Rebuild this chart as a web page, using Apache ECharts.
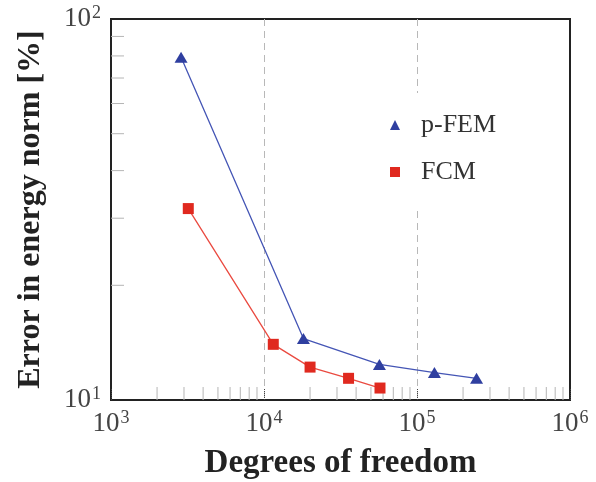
<!DOCTYPE html>
<html>
<head>
<meta charset="utf-8">
<script src="https://cdn.jsdelivr.net/npm/echarts@6/dist/echarts.min.js"></script>
<style>
  html, body { margin: 0; padding: 0; background: #fff; }
  #main { width: 596px; height: 482px; }
</style>
</head>
<body>
<div id="main"></div>
<script>
// degrees of freedom vs. error (%)
const pfemDof = [2870, 18100, 56800, 130000, 245000];
const pfemErr = [79.4, 14.5, 12.4, 11.8, 11.4];
const fcmDof = [3200, 11500, 20000, 35700, 57300];
const fcmErr = [31.8, 14.0, 12.2, 11.4, 10.75];

// minor tick values
const minorX = [2000, 3000, 4000, 5000, 6000, 7000, 8000, 9000,
  20000, 30000, 40000, 50000, 60000, 70000, 80000, 90000,
  200000, 300000, 400000, 500000, 600000, 700000, 800000, 900000];
const minorY = [20, 30, 40, 50, 60, 70, 80, 90];

const serif = "Liberation Serif";
const ink = "#222";

const supLabel = function (v) {
  const e = Math.round(Math.log10(v));
  return "{b|10}{s|" + e + "}";
};
const labelRich = {
  b: { fontFamily: serif, fontSize: 27, color: "#444", lineHeight: 30 },
  s: { fontFamily: serif, fontSize: 18, color: "#444", verticalAlign: "top", lineHeight: 30, padding: [0, 0, 10, 1] }
};

const chart = echarts.init(document.getElementById("main"));
chart.setOption({
  animation: false,
  grid: {
    left: 111, right: 26, top: 19, bottom: 82,
    outerBoundsMode: "none", containLabel: false,
    show: true, borderColor: ink, borderWidth: 2, backgroundColor: "transparent"
  },
  legend: {
    orient: "vertical",
    left: 375, top: 93,
    padding: [19, 20, 23, 15],
    backgroundColor: "#fff",
    itemWidth: 10, itemHeight: 10, itemGap: 21,
    textStyle: { fontFamily: serif, fontSize: 26, color: "#333", lineHeight: 26, padding: [0, 0, 0, 16] },
    data: [
      { name: "p-FEM", icon: "triangle" },
      { name: "FCM", icon: "rect" }
    ]
  },
  xAxis: {
    type: "log", logBase: 10, min: 1000, max: 1000000,
    name: "Degrees of freedom", nameLocation: "middle", nameGap: 47,
    nameTextStyle: { fontFamily: serif, fontSize: 33, fontWeight: "bold", color: ink },
    axisLine: { show: true, lineStyle: { color: ink, width: 2 } },
    axisTick: { show: true, inside: true, length: 12, lineStyle: { color: "#444", type: "dotted" } },
    axisLabel: { formatter: supLabel, rich: labelRich, margin: 9 },
    splitLine: { show: true, showMinLine: false, showMaxLine: false, lineStyle: { color: "#b8b8b8", type: [7, 5], width: 1 } }
  },
  yAxis: {
    type: "log", logBase: 10, min: 10, max: 100,
    name: "Error in energy norm [%]", nameLocation: "middle", nameGap: 64,
    nameTextStyle: { fontFamily: serif, fontSize: 32, fontWeight: "bold", color: ink },
    axisLine: { show: true, lineStyle: { color: ink, width: 2 } },
    axisTick: { show: false },
    axisLabel: { formatter: supLabel, rich: labelRich, margin: 10 },
    splitLine: { show: false }
  },
  series: [
    {
      type: "custom", silent: true, z: 1,
      data: minorX.map(v => [v, 10]),
      renderItem: function (params, api) {
        const p = api.coord([api.value(0), api.value(1)]);
        return { type: "line", shape: { x1: p[0], y1: p[1], x2: p[0], y2: p[1] - 13 }, style: { stroke: "#b5b5b5", lineWidth: 1 } };
      }
    },
    {
      type: "custom", silent: true, z: 1,
      data: minorY.map(v => [1000, v]),
      renderItem: function (params, api) {
        const p = api.coord([api.value(0), api.value(1)]);
        return { type: "line", shape: { x1: p[0], y1: p[1], x2: p[0] + 13, y2: p[1] }, style: { stroke: "#b5b5b5", lineWidth: 1 } };
      }
    },
    {
      name: "p-FEM", type: "line", z: 3,
      data: pfemDof.map((d, i) => [d, pfemErr[i]]),
      symbol: "triangle", symbolSize: [13, 11],
      itemStyle: { color: "#2f3fa0" },
      lineStyle: { color: "#4455b5", width: 1.3 }
    },
    {
      name: "FCM", type: "line", z: 3,
      data: fcmDof.map((d, i) => [d, fcmErr[i]]),
      symbol: "rect", symbolSize: 11,
      itemStyle: { color: "#e0291f" },
      lineStyle: { color: "#ea4a40", width: 1.3 }
    }
  ]
});
</script>
</body>
</html>
